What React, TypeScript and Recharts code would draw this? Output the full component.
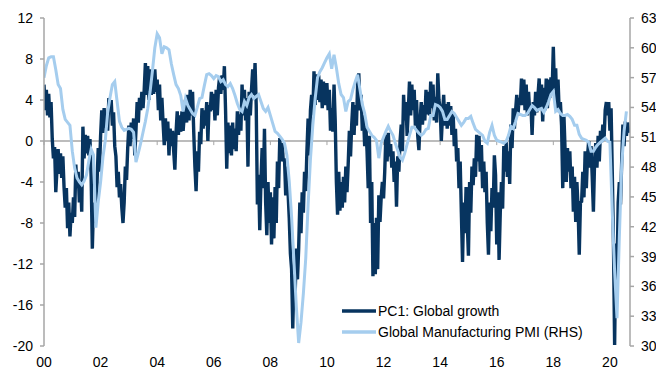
import React from "react";
import { LineChart, Line, XAxis, YAxis, ReferenceLine, Legend } from "recharts";

// PC1 readings, twice a month (24 per year)
const pc1_2000 = [5.5, 3.0, 5.0, 2.5, 4.6, 2.3, 3.8, 0.2, -1.7, -0.6, -5.0, -2.8, -0.8, -3.2, -1.2, -3.6, -1.5, -4.5, -6.5, -4.6, -8.5, -6.0, -9.3, -7.0];
const pc1_2001 = [-8.0, -5.5, -7.4, -2.3, -4.6, -3.0, -6.0, -4.0, -6.9, 1.4, -1.7, 0.6, -1.2, 0.5, -1.4, 0.2, -3.5, -10.5, -6.0, -8.0, -7.0, -4.0, -0.7, -3.0];
const pc1_2002 = [0.5, 3.0, 0.8, 3.2, 1.3, 2.6, 1.0, 4.2, 2.9, 4.0, 1.5, 2.8, -0.5, -1.5, -4.5, -3.0, -5.5, -4.2, -6.5, -8.0, -6.0, -2.5, -3.8, -0.7];
const pc1_2003 = [1.5, -0.5, 1.8, 0.2, 2.2, -1.4, 1.0, 3.8, 1.8, 4.2, 3.0, 4.8, 3.2, 5.0, 7.6, 4.5, 7.3, 4.0, 7.0, 4.5, 6.5, 4.6, 7.0, 4.8];
const pc1_2004 = [6.0, 3.0, 5.5, 2.0, 4.2, 1.8, -0.4, 2.2, 0.0, 1.9, -1.4, 1.2, -0.5, 1.0, -1.0, -2.8, 0.8, 2.9, 0.6, 2.5, 0.9, 2.9, 1.0, 2.5];
const pc1_2005 = [4.0, 1.8, 4.5, 2.0, 5.0, 2.5, 4.8, 0.9, -2.5, -4.9, -1.0, -3.0, 0.9, -0.3, 3.2, 1.2, 3.0, 1.5, 3.8, 0.0, 3.5, 2.9, 4.8, 3.0];
const pc1_2006 = [4.6, 2.0, 5.0, 2.5, 5.2, 6.3, 4.6, 6.4, 5.0, 7.3, 3.0, -2.7, 1.8, -1.2, 1.5, -1.4, 1.8, -0.8, 1.2, -1.0, 2.9, 0.6, 2.6, 1.0];
const pc1_2007 = [5.5, 2.5, 5.0, 2.0, 4.2, -2.5, 4.8, 2.5, 5.0, 7.0, 4.5, 7.6, 3.5, -6.2, -3.3, -8.7, -4.0, -0.7, -4.6, 1.2, -6.0, -9.2, -4.0, -8.0];
const pc1_2008 = [-5.0, -10.1, -5.5, -9.5, -4.5, -8.0, -2.0, -4.6, 0.3, -2.0, -0.2, -2.0, -1.7, -5.3, -2.5, -5.0, -7.5, -11.0, -12.5, -18.3, -13.0, -15.1, -10.5, -13.5];
const pc1_2009 = [-10.5, -6.0, -9.0, -5.0, -7.0, -3.0, -4.9, -1.0, 2.2, -1.4, 3.0, 4.5, 2.5, 6.8, 3.5, 6.5, 4.0, 6.4, 3.8, 6.0, 3.2, 5.8, 3.5, 5.5];
const pc1_2010 = [5.5, 3.0, 5.0, 1.0, 3.2, 0.9, 5.5, 2.0, -4.0, -7.2, -3.0, -6.8, -4.0, -6.5, -3.5, -6.0, -2.5, -5.0, -2.3, 1.0, -1.5, 1.6, 3.8, 0.6];
const pc1_2011 = [3.5, 1.5, 5.5, 6.6, 3.0, 4.5, 1.0, 2.5, -0.5, 1.5, -1.0, -4.6, 0.5, -8.0, -4.0, -13.2, -8.0, -13.0, -7.5, -12.5, -5.3, -7.9, -5.5, -4.0];
const pc1_2012 = [-5.6, -3.0, 0.6, -2.0, 0.8, -1.5, -0.3, -2.6, -1.0, -4.0, -2.0, -6.4, -1.5, -3.0, 0.0, 1.6, -1.0, 4.5, 2.0, 3.8, 0.5, 3.0, 5.8, 2.5];
const pc1_2013 = [5.5, 3.0, 5.0, 1.5, 4.0, 0.5, -0.9, 2.0, 3.8, 1.6, 3.5, 2.0, 5.0, 2.6, 4.8, 2.5, 5.8, 3.2, 5.5, 2.0, 4.3, 1.8, 6.6, 4.0];
const pc1_2014 = [3.2, 0.0, 2.5, 4.5, 1.5, 3.6, 1.2, 3.8, 1.5, 3.4, 0.6, 2.8, -0.5, 1.2, -2.0, -0.7, -4.6, -2.0, -7.0, -11.8, -6.0, -9.0, -4.5, -8.0];
const pc1_2015 = [-11.2, -4.0, -7.0, -2.5, -4.3, -1.7, -3.5, 0.6, -2.0, 0.5, -3.0, -0.4, -4.6, -2.0, -5.0, -3.0, -8.0, -11.1, -6.0, -8.8, -4.6, -6.5, -1.4, -3.3];
const pc1_2016 = [-10.1, -5.0, -11.6, -7.0, -4.0, -6.6, -0.5, -3.0, -0.1, -3.5, -1.0, -4.2, 1.6, -0.7, 3.2, 1.2, 3.0, 4.5, 2.5, 4.2, 3.5, 6.1, 3.5, 6.0];
const pc1_2017 = [3.0, 5.5, 2.5, 4.8, 2.8, 3.5, 0.6, 3.8, 2.5, 4.8, 2.8, 4.5, 6.1, 3.2, 5.5, 1.9, 5.2, 3.0, 6.1, 3.2, 6.0, 4.2, 6.2, 4.8];
const pc1_2018 = [9.2, 5.0, 7.1, 3.0, 6.0, 2.8, 3.8, 1.5, -4.6, 2.5, -1.0, -4.0, -0.7, -3.0, -1.0, -4.6, -2.5, -6.9, -3.5, -7.9, -4.0, -6.5, -11.1, -6.0];
const pc1_2019 = [-5.9, -3.0, -5.5, -1.0, -4.6, -1.5, 0.0, -2.6, -0.5, -3.5, -6.9, -2.0, -0.2, -2.6, 0.5, -2.0, 1.0, -0.1, 1.6, 0.0, 3.0, 3.8, 2.5, 3.8];
const pc1_2020 = [1.0, 3.2, -3.0, -9.8, -19.9, -10.0, -13.7, -6.0, -4.0, -6.2, -2.0, 1.6, -0.5, 1.9, 0.5, 1.8, 0.8];

// Global manufacturing PMI, monthly
const pmi_2000 = [57.0, 58.2, 59.0, 59.1, 59.1, 57.8, 56.3, 55.9, 53.8, 52.8, 52.5, 52.2];
const pmi_2001 = [49.6, 47.9, 46.9, 46.5, 46.2, 46.6, 47.2, 48.6, 49.8, 49.2, 41.9, 44.5];
const pmi_2002 = [46.5, 49.0, 50.7, 53.5, 55.0, 56.3, 56.6, 54.6, 52.6, 52.0, 51.7, 51.8];
const pmi_2003 = [51.9, 51.8, 51.5, 48.5, 49.4, 50.4, 51.5, 52.6, 53.9, 55.6, 57.7, 60.0];
const pmi_2004 = [61.4, 61.0, 59.4, 60.1, 60.0, 59.8, 58.4, 57.3, 56.3, 55.9, 55.2, 53.6];
const pmi_2005 = [54.9, 54.2, 53.8, 53.4, 53.2, 54.0, 54.9, 55.0, 56.2, 57.3, 57.4, 57.2];
const pmi_2006 = [56.9, 57.2, 57.1, 56.6, 56.8, 56.3, 56.1, 56.4, 55.9, 55.2, 54.4, 53.8];
const pmi_2007 = [53.6, 54.6, 54.2, 55.0, 55.3, 54.9, 55.1, 55.3, 54.6, 53.9, 53.6, 54.0];
const pmi_2008 = [53.2, 52.4, 51.6, 51.4, 51.1, 50.8, 50.4, 49.2, 46.6, 43.0, 38.5, 34.0];
const pmi_2009 = [30.3, 32.4, 35.3, 38.8, 44.2, 48.8, 52.2, 54.9, 57.0, 57.6, 58.0, 58.5];
const pmi_2010 = [59.0, 59.4, 57.9, 59.3, 58.0, 56.4, 55.3, 55.0, 53.6, 54.6, 54.8, 55.8];
const pmi_2011 = [56.6, 57.3, 55.8, 54.3, 53.4, 52.0, 51.6, 51.2, 51.0, 50.7, 48.9, 50.4];
const pmi_2012 = [51.0, 51.6, 52.1, 51.6, 51.2, 50.4, 49.7, 49.0, 48.7, 49.4, 50.3, 51.2];
const pmi_2013 = [52.0, 52.0, 51.7, 51.4, 51.2, 51.4, 51.8, 51.9, 53.2, 53.2, 54.3, 54.2];
const pmi_2014 = [54.0, 53.6, 52.8, 52.8, 53.2, 53.6, 53.4, 53.0, 52.6, 52.2, 52.5, 52.9];
const pmi_2015 = [52.9, 53.1, 52.4, 51.8, 51.6, 51.4, 51.2, 50.6, 50.4, 51.5, 52.2, 51.2];
const pmi_2016 = [50.7, 50.6, 50.5, 50.4, 50.6, 51.2, 52.1, 51.9, 52.6, 53.4, 53.3, 53.2];
const pmi_2017 = [53.2, 53.4, 53.8, 54.2, 54.0, 53.7, 53.8, 53.9, 53.5, 54.0, 54.6, 55.3];
const pmi_2018 = [55.6, 53.6, 53.8, 53.4, 53.2, 53.2, 53.3, 53.1, 52.8, 52.2, 52.2, 51.3];
const pmi_2019 = [50.9, 50.8, 50.7, 50.5, 49.6, 49.6, 50.0, 50.3, 50.5, 50.7, 50.9, 50.6];
const pmi_2020 = [50.5, 43.5, 37.5, 32.8, 41.0, 48.2, 51.6, 53.6];

const pc1Years = [pc1_2000, pc1_2001, pc1_2002, pc1_2003, pc1_2004, pc1_2005, pc1_2006, pc1_2007, pc1_2008, pc1_2009, pc1_2010,
  pc1_2011, pc1_2012, pc1_2013, pc1_2014, pc1_2015, pc1_2016, pc1_2017, pc1_2018, pc1_2019, pc1_2020];
const pmiYears = [pmi_2000, pmi_2001, pmi_2002, pmi_2003, pmi_2004, pmi_2005, pmi_2006, pmi_2007, pmi_2008, pmi_2009, pmi_2010,
  pmi_2011, pmi_2012, pmi_2013, pmi_2014, pmi_2015, pmi_2016, pmi_2017, pmi_2018, pmi_2019, pmi_2020];

const xTicks = [2000, 2002, 2004, 2006, 2008, 2010, 2012, 2014, 2016, 2018, 2020];
const xTickLabels = ["00", "02", "04", "06", "08", "10", "12", "14", "16", "18", "20"];
const leftTicks = [-20, -16, -12, -8, -4, 0, 4, 8, 12];
const rightTicks = [30, 33, 36, 39, 42, 45, 48, 51, 54, 57, 60, 63];

const seriesNames = ["PC1: Global growth", "Global Manufacturing PMI (RHS)"];

const pc1Data = pc1Years.flatMap((vals, i) => vals.map((v, k) => ({ t: 2000 + i + k / 24, v })));
const pmiData = pmiYears.flatMap((vals, i) => vals.map((v, k) => ({ t: 2000 + i + k / 12, v })));

const FONT = "'Liberation Sans', Arial, sans-serif";
const AXIS = "#a6a6a6";
const NAVY = "#07345f";
const SKY = "#a5cdee";

const tickStyle = { fill: "#000", fontSize: 14, fontFamily: FONT };

// legend rows follow the order of seriesNames (PC1 first)
const renderLegend = (props: any) => {
  const items = [...props.payload].sort(
    (a: any, b: any) => seriesNames.indexOf(a.value) - seriesNames.indexOf(b.value)
  );
  return (
    <div style={{ fontFamily: FONT, fontSize: 14, color: "#000" }}>
      {items.map((entry: any) => (
        <div key={entry.value} style={{ display: "flex", alignItems: "center", height: 21 }}>
          <svg width={36} height={6}>
            <line x1={0} y1={3} x2={34} y2={3} stroke={entry.color} strokeWidth={3.5} />
          </svg>
          <span>{entry.value}</span>
        </div>
      ))}
    </div>
  );
};

export default function App() {
  return (
    <div style={{ position: "absolute", left: 0, top: 0, background: "#fff" }}>
      <LineChart width={656} height={369} margin={{ top: 18, right: 0, bottom: 0, left: 0 }}>
        <XAxis
          dataKey="t"
          type="number"
          domain={[2000, 2020.71]}
          ticks={xTicks}
          interval={0}
          allowDataOverflow
          tickFormatter={(t: number) => xTickLabels[xTicks.indexOf(t)]}
          axisLine={false}
          tickLine={false}
          tickSize={0}
          tickMargin={11}
          height={23}
          tick={tickStyle}
        />
        <YAxis
          yAxisId="left"
          orientation="left"
          domain={[-20, 12]}
          ticks={leftTicks}
          interval={0}
          width={44}
          axisLine={{ stroke: AXIS, strokeWidth: 1.5 }}
          tickLine={{ stroke: AXIS, strokeWidth: 1.5 }}
          tickSize={4}
          tickMargin={7}
          tick={tickStyle}
        />
        <YAxis
          yAxisId="right"
          orientation="right"
          domain={[30, 63]}
          ticks={rightTicks}
          interval={0}
          width={26}
          axisLine={{ stroke: AXIS, strokeWidth: 1.5 }}
          tickLine={{ stroke: AXIS, strokeWidth: 1.5 }}
          tickSize={4}
          tickMargin={7}
          tick={{ ...tickStyle, textAnchor: "start" }}
        />
        <ReferenceLine yAxisId="left" y={0} stroke={AXIS} strokeWidth={1.5} />
        {xTicks.map((t) => (
          <ReferenceLine
            key={t}
            yAxisId="left"
            segment={[{ x: t, y: 0 }, { x: t, y: -0.4 }]}
            stroke={AXIS}
            strokeWidth={1}
          />
        ))}
        <Line
          yAxisId="left"
          data={pc1Data}
          dataKey="v"
          name={seriesNames[0]}
          type="linear"
          stroke={NAVY}
          strokeWidth={3.4}
          dot={false}
          isAnimationActive={false}
        />
        <Line
          yAxisId="right"
          data={pmiData}
          dataKey="v"
          name={seriesNames[1]}
          type="linear"
          stroke={SKY}
          strokeWidth={3}
          dot={false}
          isAnimationActive={false}
        />
        <Legend
          layout="vertical"
          align="center"
          verticalAlign="middle"
          content={renderLegend}
          wrapperStyle={{ left: 342, top: 300, width: "auto" }}
        />
      </LineChart>
    </div>
  );
}
